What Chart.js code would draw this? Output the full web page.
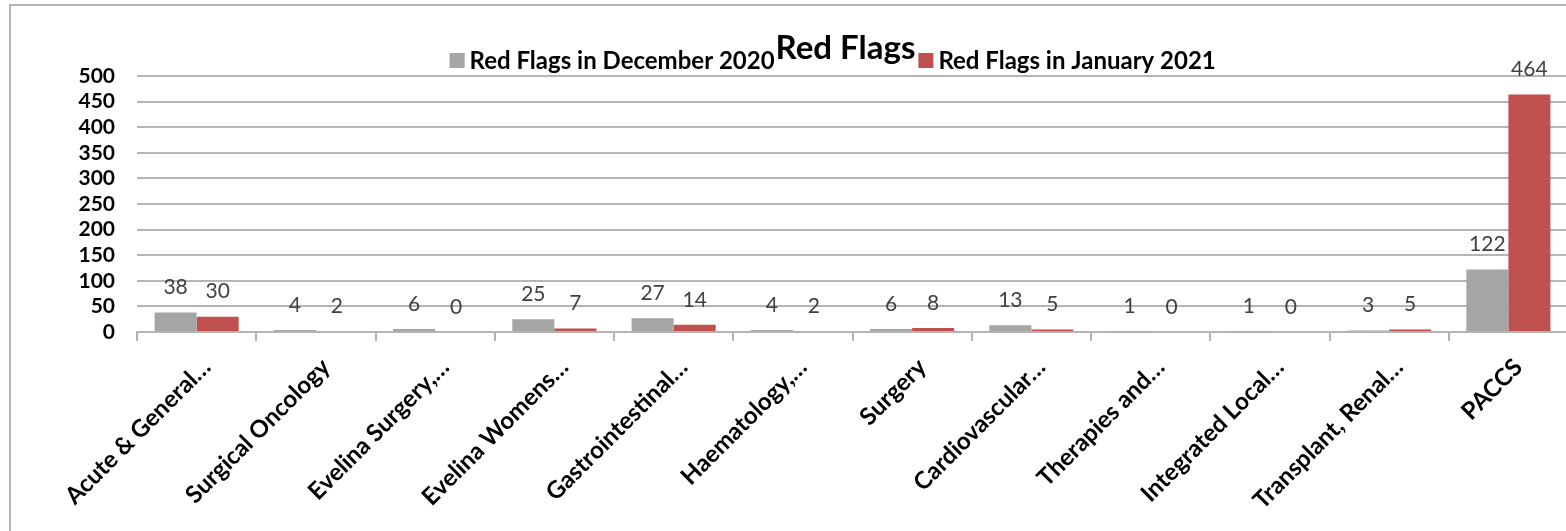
<!DOCTYPE html>
<html>
<head>
<meta charset="utf-8">
<script src="https://cdn.jsdelivr.net/npm/chart.js@4.4.1/dist/chart.umd.min.js"></script>
<style>
    html, body { margin: 0; padding: 0; background: #fff; overflow: hidden; }
    #frame {
        position: absolute; left: 9px; top: 4px; width: 1600px; height: 600px;
        border-left: 2px solid #b4b4b4; border-top: 2px solid #b4b4b4;
    }
    #wrap { position: absolute; left: 0; top: 0; width: 1572px; height: 531px; }
</style>
</head>
<body>
<div id="frame"></div>
<div id="wrap"><canvas id="redFlags"></canvas></div>
<script>
'use strict';

// Directorates on the x axis (long names cut as they appear on the axis)
const categories = [
    'Acute & General…',
    'Surgical Oncology',
    'Evelina Surgery,…',
    'Evelina Womens…',
    'Gastrointestinal…',
    'Haematology,…',
    'Surgery',
    'Cardiovascular…',
    'Therapies and…',
    'Integrated Local…',
    'Transplant, Renal…',
    'PACCS'
];

const seriesNames = ['Red Flags in December 2020', 'Red Flags in January 2021'];
const december2020 = [38, 4, 6, 25, 27, 4, 6, 13, 1, 1, 3, 122];
const january2021 = [30, 2, 0, 7, 14, 2, 8, 5, 0, 0, 5, 464];

const chartTitle = 'Red Flags';
const yMin = 0;
const yMax = 500;
const yStep = 50;

const GREY = '#a5a5a5';
const RED = '#c0504d';
const FONT = "Lato, 'Open Sans', sans-serif";

// value labels sitting above each bar
const valueLabels = {
    id: 'valueLabels',
    afterDatasetsDraw(chart) {
        const ctx = chart.ctx;
        ctx.save();
        ctx.font = '21px ' + FONT;
        ctx.fillStyle = '#404040';
        ctx.textAlign = 'center';
        ctx.textBaseline = 'middle';
        chart.data.datasets.forEach((ds, i) => {
            chart.getDatasetMeta(i).data.forEach((bar, j) => {
                ctx.fillText(String(ds.data[j]), bar.x, bar.y - 25);
            });
        });
        ctx.restore();
    }
};

// title with the two legend entries on either side of it
const titleLegend = {
    id: 'titleLegend',
    afterDraw(chart) {
        const ctx = chart.ctx;
        const area = chart.chartArea;
        const cx = (area.left + area.right) / 2 - 7;
        ctx.save();
        ctx.fillStyle = '#000';
        ctx.textBaseline = 'alphabetic';

        ctx.font = 'bold 33px ' + FONT;
        const tw = ctx.measureText(chartTitle).width;
        ctx.textAlign = 'center';
        ctx.fillText(chartTitle, cx, 59);

        ctx.font = 'bold 24px ' + FONT;
        const ds = chart.data.datasets;
        const box = 15;

        // left entry ends where the title starts
        const w0 = ctx.measureText(ds[0].label).width;
        const right0 = cx - tw / 2 - 1;
        ctx.textAlign = 'left';
        ctx.fillText(ds[0].label, right0 - w0, 69);
        ctx.fillStyle = ds[0].backgroundColor;
        ctx.fillRect(right0 - w0 - 5 - box, 53, box, box);

        // right entry starts after the title
        const left1 = cx + tw / 2 + 3;
        ctx.fillStyle = ds[1].backgroundColor;
        ctx.fillRect(left1, 53, box, box);
        ctx.fillStyle = '#000';
        ctx.fillText(ds[1].label, left1 + box + 5, 69);
        ctx.restore();
    }
};

new Chart(document.getElementById('redFlags'), {
    type: 'bar',
    data: {
        labels: categories,
        datasets: [
            { label: seriesNames[0], data: december2020, backgroundColor: GREY },
            { label: seriesNames[1], data: january2021, backgroundColor: RED }
        ]
    },
    options: {
        responsive: true,
        maintainAspectRatio: false,
        animation: false,
        layout: { padding: { top: 76, left: 0, right: 4, bottom: 0 } },
        datasets: {
            bar: { categoryPercentage: 0.705, barPercentage: 1.0 }
        },
        scales: {
            x: {
                grid: {
                    offset: true,
                    drawOnChartArea: false,
                    drawTicks: true,
                    tickLength: 9,
                    color: '#b4b4b4',
                    lineWidth: 2
                },
                border: { color: '#b4b4b4', width: 2 },
                ticks: {
                    autoSkip: false,
                    minRotation: 45,
                    maxRotation: 45,
                    padding: 12,
                    labelOffset: 10,
                    color: '#000',
                    font: { family: FONT, size: 24, weight: 'bold' }
                },
                afterFit(scale) { scale.height = 199; }
            },
            y: {
                min: yMin,
                max: yMax,
                ticks: {
                    stepSize: yStep,
                    autoSkip: false,
                    padding: 22,
                    color: '#000',
                    font: { family: FONT, size: 21, weight: 'bold' }
                },
                grid: { color: '#b4b4b4', lineWidth: 2, drawTicks: false },
                border: { display: false },
                afterFit(scale) { scale.width = 137; }
            }
        },
        plugins: {
            legend: { display: false },
            title: { display: false },
            tooltip: { enabled: false }
        }
    },
    plugins: [valueLabels, titleLegend]
});
</script>
</body>
</html>
